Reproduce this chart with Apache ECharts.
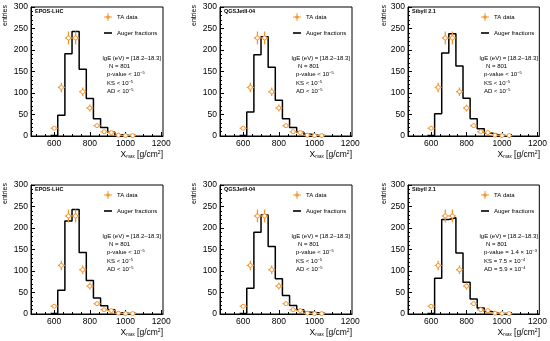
<!DOCTYPE html>
<html><head><meta charset="utf-8">
<script src="https://cdn.jsdelivr.net/npm/echarts@6/dist/echarts.min.js"></script>
<style>html,body{margin:0;padding:0;background:#fff}#c{width:550px;height:341px}</style>
</head><body><div id="c"></div>
<script>
// ---------- data ----------
const binCenters = [600, 640, 680, 720, 760, 800, 840, 880, 920, 960, 1000, 1040];
const binHalfWidth = 20;
const taCounts = [18, 113, 228, 228, 103, 65, 24, 10, 8, 2, 1, 1];
const taErrY = [4, 11, 15, 15, 10, 8, 5, 3, 3, 1, 1, 1];
const augerEposTop     = [1, 48, 191, 243, 155, 87, 40, 20, 9, 3, 1, 1];
const augerQgsTop      = [1, 56, 189, 231, 160, 83, 40, 20, 9, 4, 2, 1];
const augerSibyllTop   = [1, 52, 193, 238, 163, 88, 40, 17, 7, 3, 1, 0];
const augerEposBottom  = [1, 55, 216, 243, 143, 78, 37, 19, 10, 3, 1, 1];
const augerQgsBottom   = [1, 60, 190, 230, 157, 82, 43, 20, 10, 4, 3, 1];
const augerSibyllBottom= [1, 83, 220, 224, 142, 74, 35, 14, 6, 2, 1, 0];
const panelAuger = [augerEposTop, augerQgsTop, augerSibyllTop, augerEposBottom, augerQgsBottom, augerSibyllBottom];
const panelModels = ['EPOS-LHC', 'QGSJetII-04', 'Sibyll 2.1', 'EPOS-LHC', 'QGSJetII-04', 'Sibyll 2.1'];
const energyText = 'lgE (eV) = [18.2\u201318.3]';
const nText = 'N = 801';
const pValueTexts = ['p-value < 10{sup|\u22125}', 'p-value < 10{sup|\u22125}', 'p-value < 10{sup|\u22125}',
                     'p-value < 10{sup|\u22125}', 'p-value < 10{sup|\u22125}', 'p-value = 1.4 \u00d7 10{sup|\u22123}'];
const ksTexts = ['KS < 10{sup|\u22125}', 'KS < 10{sup|\u22125}', 'KS < 10{sup|\u22125}',
                 'KS < 10{sup|\u22125}', 'KS < 10{sup|\u22125}', 'KS = 7.5 \u00d7 10{sup|\u22124}'];
const adTexts = ['AD < 10{sup|\u22125}', 'AD < 10{sup|\u22125}', 'AD < 10{sup|\u22125}',
                 'AD < 10{sup|\u22125}', 'AD < 10{sup|\u22125}', 'AD = 5.9 \u00d7 10{sup|\u22124}'];
const xTickLabels = [600, 800, 1000, 1200];
const xMinorTicks = [500, 550, 650, 700, 750, 850, 900, 950, 1050, 1100, 1150];
const yTickLabels = [0, 50, 100, 150, 200, 250, 300];

// ---------- layout ----------
const FONT = 'Liberation Sans, Arial, sans-serif';
const ORANGE = '#f7962f';
const colLeft = [31, 220, 408];
const rowTop = [7, 185];
const gW = 132, gH = 129;

const grids = [], xAxes = [], yAxes = [], series = [], legends = [], graphics = [];
const taIcon = 'path://M0,4.4H10V5.6H0Z M4.4,0H5.6V10H4.4Z M7.3,5A2.3,2.3,0,1,1,2.7,5A2.3,2.3,0,1,1,7.3,5Z';
const lineIcon = 'path://M0,0H20V4H0Z';

function renderTA(params, api) {
  const x = api.value(0), y = api.value(1), ex = api.value(2), ey = api.value(3);
  const c = api.coord([x, y]);
  const l = api.coord([x - ex, y]), r = api.coord([x + ex, y]);
  const t = api.coord([x, y + ey]), b = api.coord([x, Math.max(0, y - ey)]);
  const st = { stroke: ORANGE, lineWidth: 1.3 };
  return { type: 'group', children: [
    { type: 'line', shape: { x1: l[0], y1: l[1], x2: r[0], y2: r[1] }, style: st },
    { type: 'line', shape: { x1: t[0], y1: t[1], x2: b[0], y2: b[1] }, style: st },
    { type: 'circle', shape: { cx: c[0], cy: c[1], r: 2 }, style: { fill: '#fff', stroke: ORANGE, lineWidth: 1 } }
  ]};
}

for (let i = 0; i < 6; i++) {
  const L = colLeft[i % 3], T = rowTop[Math.floor(i / 3)], R = L + gW, B = T + gH;
  grids.push({ left: L, top: T, width: gW, height: gH, show: true, borderColor: '#000', borderWidth: 1, backgroundColor: 'transparent' });
  xAxes.push({
    type: 'value', gridIndex: i, min: 470, max: 1210, position: 'bottom',
    axisLine: { show: true, onZero: false, lineStyle: { color: '#000', width: 1 } },
    axisTick: { show: true, inside: true, length: 4, customValues: xTickLabels, lineStyle: { color: '#000' } },
    axisLabel: { customValues: xTickLabels, fontSize: 8.5, color: '#000', margin: 3, fontFamily: FONT, formatter: v => String(v) },
    splitLine: { show: false }
  });
  xAxes.push({
    type: 'value', gridIndex: i, min: 470, max: 1210, position: 'bottom',
    axisLine: { show: false },
    axisTick: { show: true, inside: true, length: 2, customValues: xMinorTicks, lineStyle: { color: '#000' } },
    axisLabel: { show: false },
    splitLine: { show: false }
  });
  yAxes.push({
    type: 'value', gridIndex: i, min: 0, max: 300, interval: 50,
    axisLine: { show: true, onZero: false, lineStyle: { color: '#000', width: 1 } },
    axisTick: { show: true, inside: true, length: 4, lineStyle: { color: '#000' } },
    minorTick: { show: true, splitNumber: 5, length: 2, lineStyle: { color: '#000' } },
    axisLabel: { fontSize: 8.5, color: '#000', margin: 3, fontFamily: FONT, formatter: v => String(v) },
    splitLine: { show: false }
  });
  const vals = panelAuger[i];
  const stepData = binCenters.map((c, k) => [c - binHalfWidth, vals[k]]);
  stepData.push([binCenters[binCenters.length - 1] + binHalfWidth, vals[vals.length - 1]]);
  series.push({
    name: 'Auger fractions', type: 'line', step: 'end', xAxisIndex: 2 * i, yAxisIndex: i,
    data: stepData, symbol: 'none', lineStyle: { color: '#000', width: 1.5 }, itemStyle: { color: '#000' }, z: 2
  });
  series.push({
    name: 'TA data', type: 'custom', xAxisIndex: 2 * i, yAxisIndex: i,
    data: binCenters.map((c, k) => [c, taCounts[k], binHalfWidth, taErrY[k]]),
    renderItem: renderTA, itemStyle: { color: ORANGE }, z: 3
  });
  legends.push({
    left: L + 68, top: T + 1, orient: 'vertical', itemWidth: 8, itemHeight: 8, itemGap: 9,
    selectedMode: false, symbolKeepAspect: true,
    textStyle: { fontSize: 6, color: '#000', fontFamily: FONT },
    data: [{ name: 'TA data', icon: taIcon }, { name: 'Auger fractions', icon: lineIcon, itemStyle: { color: '#000' } }]
  });
  // model label
  graphics.push({ type: 'text', x: L + 4, y: T + 4, style: { text: panelModels[i], font: 'bold 5.5px ' + FONT, fill: '#000', verticalAlign: 'middle' } });
  // info lines
  const infoY = T + 51, dy = 8.3;
  const rich = { sup: { fontSize: 4, fontFamily: FONT, verticalAlign: 'top', lineHeight: 7, padding: [0, 0, 2.5, 0] } };
  graphics.push({ type: 'text', x: R - 2, y: infoY, style: { text: energyText, font: '6px ' + FONT, fill: '#000', align: 'right', verticalAlign: 'middle' } });
  graphics.push({ type: 'text', x: R - 54, y: infoY + dy, style: { text: nText, font: '6px ' + FONT, fill: '#000', verticalAlign: 'middle' } });
  [pValueTexts[i], ksTexts[i], adTexts[i]].forEach((s, k) => {
    graphics.push({ type: 'text', x: R - 56, y: infoY + dy * (k + 2), style: { text: s, font: '6px ' + FONT, fill: '#000', verticalAlign: 'middle', rich } });
  });
  // axis titles
  graphics.push({ type: 'text', x: (i % 3 === 0 ? 5 : (i % 3 === 1 ? 194 : 384)), y: T - 2, rotation: Math.PI / 2,
    style: { text: 'entries', font: '7px ' + FONT, fill: '#000', align: 'right', verticalAlign: 'middle' } });
  graphics.push({ type: 'text', x: R, y: B + 19, style: {
    text: 'X{sub|max} [g/cm{sup|2}]', font: '8.5px ' + FONT, fill: '#000', align: 'right', verticalAlign: 'middle',
    rich: { sub: { fontSize: 4.5, fontFamily: FONT, padding: [4, 0, 0, 0] }, sup: { fontSize: 5, fontFamily: FONT, padding: [0, 0, 4, 0] } } } });
}

const chart = echarts.init(document.getElementById('c'), null, { renderer: 'canvas' });
chart.setOption({
  animation: false,
  backgroundColor: '#fff',
  grid: grids, xAxis: xAxes, yAxis: yAxes, series: series, legend: legends,
  graphic: { elements: graphics }
});
</script>
</body></html>
